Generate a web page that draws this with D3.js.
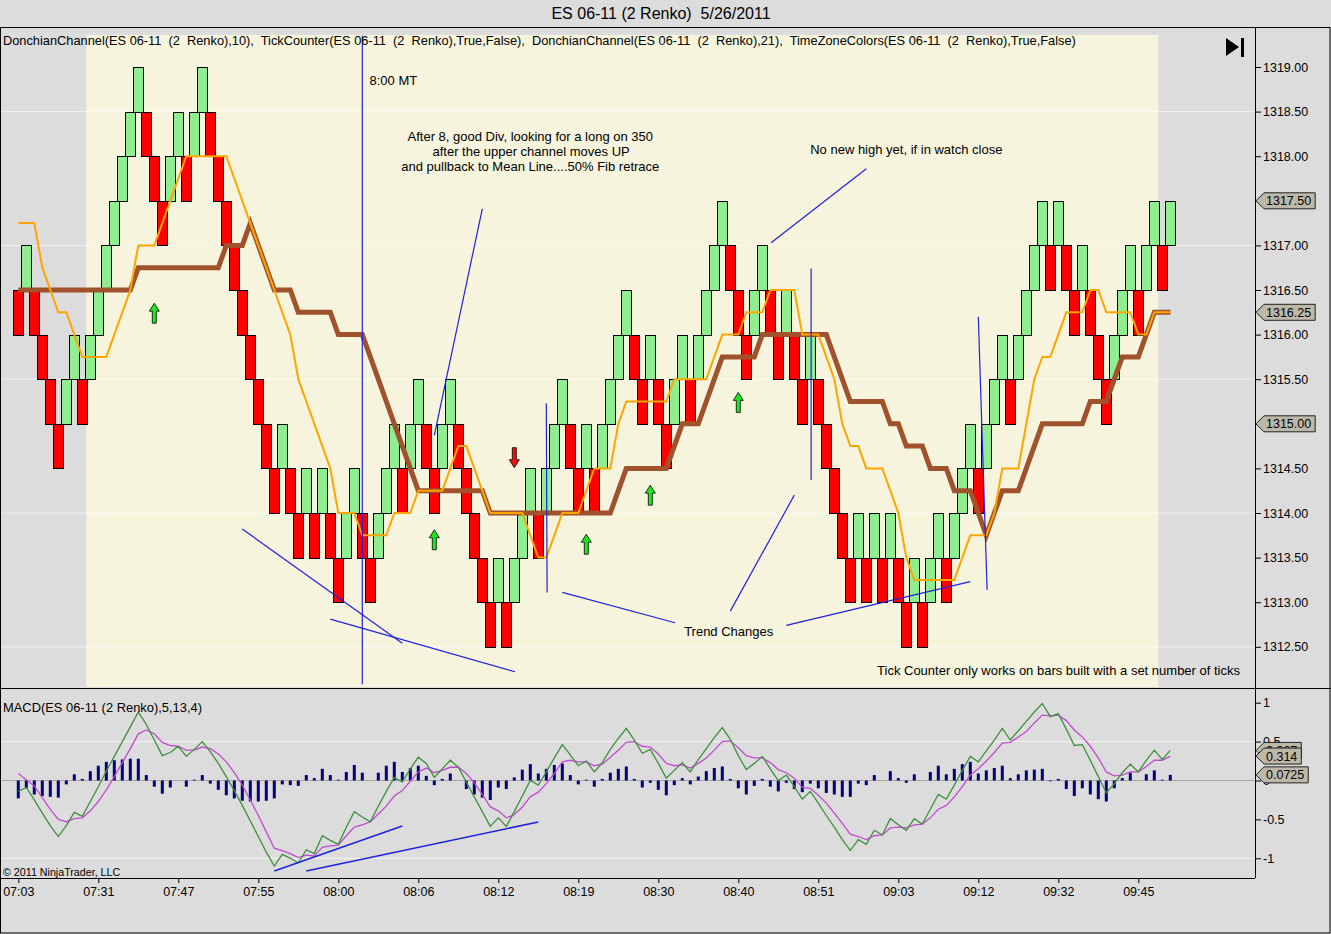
<!DOCTYPE html>
<html>
<head>
<meta charset="utf-8">
<script src="https://cdn.jsdelivr.net/npm/d3@7"></script>
<style>
  body { margin: 0; background: #dcdcdc; }
  svg { display: block; font-family: "Liberation Sans", Arial, sans-serif; }
</style>
</head>
<body>
<div class="container"></div>
<script>
// ---- data ----
const brickClose = [
  1316.0,1317.0,1316.0,1315.5,1315.0,1314.5,1315.5,1316.0,1315.0,1316.0,
  1316.5,1317.0,1317.5,1318.0,1318.5,1319.0,1318.0,1317.5,1317.0,1318.0,
  1318.5,1317.5,1318.5,1319.0,1318.0,1317.5,1317.0,1316.5,1316.0,1315.5,
  1315.0,1314.5,1314.0,1315.0,1314.0,1313.5,1314.5,1313.5,1314.5,1313.5,
  1313.0,1314.0,1314.5,1313.5,1313.0,1314.0,1314.5,1315.0,1314.0,1315.0,
  1315.5,1314.5,1314.0,1315.0,1315.5,1314.5,1314.0,1313.5,1313.0,1312.5,
  1313.5,1312.5,1313.5,1314.0,1314.5,1313.5,1314.5,1315.0,1315.5,1314.5,
  1314.0,1315.0,1314.0,1315.0,1315.5,1316.0,1316.5,1315.5,1315.0,1316.0,
  1315.0,1314.5,1315.5,1316.0,1315.0,1316.0,1316.5,1317.0,1317.5,1316.5,
  1316.0,1315.5,1316.5,1317.0,1316.0,1315.5,1316.5,1315.5,1315.0,1316.0,
  1315.0,1314.5,1314.0,1313.5,1313.0,1314.0,1313.0,1314.0,1313.0,1314.0,
  1313.0,1312.5,1313.5,1312.5,1313.5,1314.0,1313.0,1314.0,1314.5,1315.0,
  1314.0,1315.0,1315.5,1316.0,1315.0,1316.0,1316.5,1317.0,1317.5,1316.5,
  1317.5,1316.5,1316.0,1317.0,1316.0,1315.5,1315.0,1316.0,1316.5,1317.0,
  1316.0,1317.0,1317.5,1316.5,1317.5
];
const brickDir = (
  "d u d d d d u u d u u u u u u u d d d u u d u u d d d d d d " +
  "d d d u d d u d u d d u u d d u u u d u u d d u u d d d d d " +
  "u d u u u d u u u d d u d u u u u d d u d d u u d u u u u d " +
  "d d u u d d u d d u d d d d d u d u d u d d u d u u d u u u " +
  "d u u u d u u u u d u d d u d d d u u u d u u d u"
).split(" ");
const brickSize = 0.5;

const don10 = [
  1317.25,1317.25,1317.25,1316.75,1316.5,1316.25,1316.25,1316.0,1315.75,1315.75,
  1315.75,1315.75,1316.0,1316.25,1316.5,1317.0,1317.0,1317.0,1317.25,1317.5,
  1317.75,1318.0,1318.0,1318.0,1318.0,1318.0,1318.0,1317.75,1317.5,1317.25,
  1317.0,1316.75,1316.5,1316.25,1316.0,1315.5,1315.25,1315.0,1314.75,1314.5,
  1314.0,1314.0,1314.0,1313.75,1313.75,1313.75,1313.75,1314.0,1314.0,1314.0,
  1314.25,1314.25,1314.25,1314.25,1314.5,1314.75,1314.75,1314.5,1314.25,1314.0,
  1314.0,1314.0,1314.0,1314.0,1313.75,1313.5,1313.5,1313.75,1314.0,1314.0,
  1314.0,1314.25,1314.5,1314.5,1314.5,1315.0,1315.25,1315.25,1315.25,1315.25,
  1315.25,1315.25,1315.5,1315.5,1315.5,1315.5,1315.5,1315.75,1316.0,1316.0,
  1316.0,1316.25,1316.25,1316.25,1316.5,1316.5,1316.5,1316.5,1316.0,1316.0,
  1316.0,1315.75,1315.5,1315.0,1314.75,1314.75,1314.5,1314.5,1314.5,1314.25,
  1314.0,1313.5,1313.25,1313.25,1313.25,1313.25,1313.25,1313.25,1313.5,1313.75,
  1313.75,1313.75,1314.0,1314.5,1314.5,1314.5,1315.0,1315.5,1315.75,1315.75,
  1316.0,1316.25,1316.25,1316.25,1316.5,1316.5,1316.25,1316.25,1316.25,1316.25,
  1316.0,1316.0,1316.25,1316.25,1316.25
];
const don21 = [
  1316.5,1316.5,1316.5,1316.5,1316.5,1316.5,1316.5,1316.5,1316.5,1316.5,
  1316.5,1316.5,1316.5,1316.5,1316.5,1316.75,1316.75,1316.75,1316.75,1316.75,
  1316.75,1316.75,1316.75,1316.75,1316.75,1316.75,1317.0,1317.0,1317.0,1317.25,
  1317.0,1316.75,1316.5,1316.5,1316.5,1316.25,1316.25,1316.25,1316.25,1316.25,
  1316.0,1316.0,1316.0,1316.0,1315.75,1315.5,1315.25,1315.0,1314.75,1314.5,
  1314.25,1314.25,1314.25,1314.25,1314.25,1314.25,1314.25,1314.25,1314.25,1314.0,
  1314.0,1314.0,1314.0,1314.0,1314.0,1314.0,1314.0,1314.0,1314.0,1314.0,
  1314.0,1314.0,1314.0,1314.0,1314.0,1314.25,1314.5,1314.5,1314.5,1314.5,
  1314.5,1314.5,1314.75,1315.0,1315.0,1315.0,1315.25,1315.5,1315.75,1315.75,
  1315.75,1315.75,1315.75,1316.0,1316.0,1316.0,1316.0,1316.0,1316.0,1316.0,
  1316.0,1316.0,1315.75,1315.5,1315.25,1315.25,1315.25,1315.25,1315.25,1315.0,
  1315.0,1314.75,1314.75,1314.75,1314.5,1314.5,1314.5,1314.25,1314.25,1314.25,
  1314.0,1313.75,1314.0,1314.25,1314.25,1314.25,1314.5,1314.75,1315.0,1315.0,
  1315.0,1315.0,1315.0,1315.0,1315.25,1315.25,1315.25,1315.5,1315.75,1315.75,
  1315.75,1316.0,1316.25,1316.25,1316.25
];

const macdLine = [
  -0.14,-0.09,-0.25,-0.42,-0.58,-0.72,-0.58,-0.41,-0.46,-0.27,
  -0.08,0.12,0.31,0.50,0.69,0.88,0.72,0.52,0.32,0.36,
  0.44,0.31,0.40,0.50,0.37,0.22,0.05,-0.13,-0.32,-0.52,
  -0.72,-0.92,-1.10,-0.95,-1.00,-1.06,-0.89,-0.94,-0.71,-0.77,
  -0.82,-0.60,-0.40,-0.47,-0.53,-0.33,-0.14,0.04,-0.02,0.15,
  0.30,0.22,0.04,0.15,0.26,0.17,-0.02,-0.21,-0.40,-0.59,
  -0.48,-0.59,-0.40,-0.20,0.00,-0.06,0.11,0.29,0.46,0.33,
  0.19,0.25,0.11,0.23,0.40,0.54,0.67,0.52,0.35,0.40,
  0.22,0.03,0.13,0.23,0.11,0.27,0.41,0.55,0.68,0.53,
  0.32,0.14,0.22,0.31,0.15,0.00,0.07,-0.08,-0.24,-0.14,
  -0.29,-0.45,-0.60,-0.76,-0.90,-0.76,-0.82,-0.64,-0.70,-0.49,
  -0.57,-0.64,-0.49,-0.56,-0.37,-0.18,-0.24,-0.06,0.13,0.31,
  0.24,0.38,0.52,0.67,0.52,0.64,0.76,0.88,0.99,0.82,
  0.86,0.66,0.45,0.46,0.26,0.05,-0.16,-0.04,0.10,0.21,
  0.11,0.26,0.39,0.27,0.3865
];
const macdAvg = [
  0.09,0.01,-0.07,-0.22,-0.37,-0.50,-0.53,-0.49,-0.48,-0.39,
  -0.27,-0.12,0.05,0.23,0.41,0.60,0.65,0.60,0.49,0.45,
  0.44,0.39,0.39,0.43,0.41,0.34,0.24,0.10,-0.06,-0.25,
  -0.45,-0.66,-0.87,-0.90,-0.94,-0.99,-0.96,-0.97,-0.86,-0.84,
  -0.83,-0.71,-0.60,-0.57,-0.53,-0.43,-0.33,-0.20,-0.13,-0.01,
  0.11,0.16,0.10,0.13,0.17,0.17,0.09,-0.03,-0.18,-0.34,
  -0.39,-0.48,-0.44,-0.34,-0.21,-0.15,-0.04,0.09,0.24,0.26,
  0.24,0.24,0.19,0.21,0.30,0.39,0.49,0.50,0.44,0.43,
  0.34,0.22,0.19,0.20,0.16,0.22,0.29,0.39,0.50,0.51,
  0.42,0.32,0.29,0.29,0.23,0.14,0.10,0.03,-0.09,-0.10,
  -0.19,-0.29,-0.42,-0.55,-0.69,-0.72,-0.76,-0.71,-0.70,-0.61,
  -0.60,-0.61,-0.57,-0.56,-0.48,-0.37,-0.32,-0.21,-0.08,0.07,
  0.15,0.25,0.36,0.48,0.49,0.56,0.63,0.74,0.84,0.83,
  0.84,0.77,0.65,0.56,0.44,0.29,0.11,0.06,0.07,0.11,
  0.11,0.18,0.26,0.26,0.314
];
const macdDiff = [
  -0.23,-0.10,-0.18,-0.20,-0.21,-0.22,-0.05,0.08,0.02,0.12,
  0.19,0.24,0.26,0.27,0.28,0.28,0.07,-0.08,-0.17,-0.09,
  0.00,-0.08,0.01,0.07,-0.04,-0.12,-0.19,-0.23,-0.26,-0.27,
  -0.27,-0.26,-0.23,-0.05,-0.06,-0.07,0.07,0.03,0.15,0.07,
  0.01,0.11,0.20,0.10,0.00,0.10,0.19,0.24,0.11,0.16,
  0.19,0.06,-0.06,0.02,0.09,0.00,-0.11,-0.18,-0.22,-0.25,
  -0.09,-0.11,0.04,0.14,0.21,0.09,0.15,0.20,0.22,0.07,
  -0.05,0.01,-0.08,0.02,0.10,0.15,0.18,0.02,-0.09,-0.03,
  -0.12,-0.19,-0.06,0.03,-0.05,0.05,0.12,0.16,0.18,0.02,
  -0.10,-0.18,-0.07,0.02,-0.08,-0.14,-0.03,-0.11,-0.15,-0.04,
  -0.10,-0.16,-0.18,-0.21,-0.21,-0.04,-0.06,0.07,0.00,0.12,
  0.03,-0.03,0.08,0.00,0.11,0.19,0.08,0.15,0.21,0.24,
  0.09,0.13,0.16,0.19,0.03,0.08,0.13,0.14,0.15,-0.01,
  0.02,-0.11,-0.20,-0.10,-0.18,-0.24,-0.27,-0.10,0.03,0.10,
  0.00,0.08,0.13,0.01,0.0725
];

const timeTickBars = [0,10,20,30,40,50,60,70,80,90,100,110,120,130,140];
const timeLabels = ["07:03","07:31","07:47","07:55","08:00","08:06","08:12","08:19",
                    "08:30","08:40","08:51","09:03","09:12","09:32","09:45"];
const priceTicks = [1312.5,1313,1313.5,1314,1314.5,1315,1315.5,1316,1316.5,1317,1317.5,1318,1318.5,1319];
const priceGrid = [1312.5,1314,1315.5,1317,1318.5];
const macdTicks = [-1,-0.5,0,0.5,1];
const macdTickText = ["-1","-0.5","0","0.5","1"];
const macdGrid = [-1,0.5];
const sessionBars = [9,142];
const priceMarks = [1317.5,1316.25,1315.0];
const macdMarks = [["0.387",0.3865],["0.314",0.314],["0.0725",0.0725]];

// hand drawn annotations, [bar, price] pairs
const noteLines = [
  [[43,1319.35],[43,1312.08]],
  [[58,1317.41],[52,1314.87]],
  [[106,1317.86],[94.1,1317.03]],
  [[99.1,1316.74],[99.1,1314.37]],
  [[66,1315.23],[66.1,1313.11]],
  [[68,1313.11],[82.1,1312.77]],
  [[89,1312.90],[97,1314.20]],
  [[96,1312.74],[119,1313.23]],
  [[120,1316.20],[121.1,1313.14]],
  [[28,1313.82],[48,1312.54]],
  [[39,1312.81],[62.1,1312.22]]
];
const macdNoteLines = [
  [[32,-1.163],[48,-0.585]],
  [[36,-1.163],[65,-0.533]]
];
const upArrows = [[17,1316.24],[52,1313.70],[71,1313.65],[79,1314.20],[90,1315.24]];
const downArrows = [[62,1314.62]];
const noteTexts = [
  {bar: 43.9, price: 1318.80, anchor: "start", text: "8:00 MT"},
  {bar: 64, price: 1318.17, anchor: "middle", text: "After 8, good Div, looking for a long on 350"},
  {bar: 64.1, price: 1318.00, anchor: "middle", text: "after the upper channel moves UP"},
  {bar: 64, price: 1317.83, anchor: "middle", text: "and pullback to Mean Line....50% Fib retrace"},
  {bar: 111, price: 1318.02, anchor: "middle", text: "No new high yet, if in watch close"},
  {bar: 88.8, price: 1312.62, anchor: "middle", text: "Trend Changes"}
];

// ---- layout ----
const W = 1331, H = 934;
const axisX = 1255;
const panelTop = 27, split = 688, bottom = 878;

const svg = d3.select(".container").append("svg")
  .attr("width", W).attr("height", H);

svg.append("rect").attr("width", W).attr("height", H).attr("fill", "#dcdcdc");

const x = d3.scaleLinear().domain([0, 144]).range([18.3, 1170.3]);
const y = d3.scaleLinear().domain([1312.5, 1319]).range([646.8, 67]);
const ym = d3.scaleLinear().domain([-1, 1]).range([858.3, 702.7]);
const step = x(1) - x(0);

// title
svg.append("text").attr("x", 661).attr("y", 19).attr("text-anchor", "middle")
  .style("font-size", "16px").style("white-space", "pre")
  .text("ES 06-11 (2 Renko)  5/26/2011");

// session colour
svg.append("rect")
  .attr("x", x(sessionBars[0]) - step / 2).attr("y", 35)
  .attr("width", x(sessionBars[1]) - x(sessionBars[0]) + step)
  .attr("height", 652).attr("fill", "#f6f4dd");

// grid
svg.selectAll(".pgrid").data(priceGrid).join("line")
  .attr("x1", 0).attr("x2", axisX).attr("y1", d => y(d)).attr("y2", d => y(d))
  .attr("stroke", "#ffffff").attr("stroke-opacity", 0.6);
svg.selectAll(".mgrid").data(macdGrid).join("line")
  .attr("x1", 0).attr("x2", axisX).attr("y1", d => ym(d)).attr("y2", d => ym(d))
  .attr("stroke", "#ffffff").attr("stroke-opacity", 0.7);
svg.append("line").attr("x1", 0).attr("x2", axisX)
  .attr("y1", ym(0)).attr("y2", ym(0)).attr("stroke", "#a8a8a8");

// bricks
const bricks = brickClose.map((c, i) => {
  const open = brickDir[i] === "u" ? c - brickSize : c + brickSize;
  return {i, hi: Math.max(open, c), lo: Math.min(open, c), up: brickDir[i] === "u"};
});
svg.append("g").selectAll("rect").data(bricks).join("rect")
  .attr("x", d => Math.round(x(d.i) - 5) + 0.5)
  .attr("y", d => Math.round(y(d.hi)) + 0.5)
  .attr("width", 10)
  .attr("height", d => Math.round(y(d.lo)) - Math.round(y(d.hi)))
  .attr("fill", d => d.up ? "#90ee90" : "#ff0000")
  .attr("stroke", "#000").attr("stroke-width", 1);

// donchian mean lines
const priceLine = d3.line().x((d, i) => x(i)).y(d => y(d));
svg.append("path").datum(don21).attr("d", priceLine)
  .attr("fill", "none").attr("stroke", "#a0522d").attr("stroke-width", 5)
  .attr("stroke-linejoin", "miter");
svg.append("path").datum(don10).attr("d", priceLine)
  .attr("fill", "none").attr("stroke", "#ffa500").attr("stroke-width", 2);

// macd
svg.append("g").selectAll("line").data(macdDiff).join("line")
  .attr("x1", (d, i) => x(i)).attr("x2", (d, i) => x(i))
  .attr("y1", ym(0)).attr("y2", d => ym(d))
  .attr("stroke", "#000080").attr("stroke-width", 3);
const macdPath = d3.line().x((d, i) => x(i)).y(d => ym(d));
svg.append("path").datum(macdAvg).attr("d", macdPath)
  .attr("fill", "none").attr("stroke", "#c04cd0").attr("stroke-width", 1.3);
svg.append("path").datum(macdLine).attr("d", macdPath)
  .attr("fill", "none").attr("stroke", "#3f8f3f").attr("stroke-width", 1.3);

// annotations
const blue = "#2222dd";
svg.append("g").selectAll("line").data(noteLines).join("line")
  .attr("x1", d => x(d[0][0])).attr("y1", d => y(d[0][1]))
  .attr("x2", d => x(d[1][0])).attr("y2", d => y(d[1][1]))
  .attr("stroke", blue).attr("stroke-width", 1.2);
svg.append("g").selectAll("line").data(macdNoteLines).join("line")
  .attr("x1", d => x(d[0][0])).attr("y1", d => ym(d[0][1]))
  .attr("x2", d => x(d[1][0])).attr("y2", d => ym(d[1][1]))
  .attr("stroke", blue).attr("stroke-width", 1.5);

function arrowPath(cx, cy, dir) {
  const s = dir; // 1 = up, -1 = down
  const pts = [[0,-10],[5,-2],[2,-2],[2,10],[-2,10],[-2,-2],[-5,-2]];
  return "M" + pts.map(p => [cx + p[0], cy + p[1] * s].join(",")).join("L") + "Z";
}
svg.append("g").selectAll("path").data(upArrows).join("path")
  .attr("d", d => arrowPath(x(d[0]), y(d[1]), 1))
  .attr("fill", "#1ee61e").attr("stroke", "#000").attr("stroke-width", 0.8);
svg.append("g").selectAll("path").data(downArrows).join("path")
  .attr("d", d => arrowPath(x(d[0]), y(d[1]), -1))
  .attr("fill", "#ee1111").attr("stroke", "#000").attr("stroke-width", 0.8);

svg.append("g").selectAll("text").data(noteTexts).join("text")
  .attr("x", d => x(d.bar)).attr("y", d => y(d.price))
  .attr("text-anchor", d => d.anchor)
  .style("font-size", "13px").text(d => d.text);

svg.append("text").attr("x", 1240).attr("y", 675).attr("text-anchor", "end")
  .style("font-size", "13px").text("Tick Counter only works on bars built with a set number of ticks");

// labels
svg.append("text").attr("x", 3).attr("y", 45).style("font-size", "12.8px").style("white-space", "pre")
  .text("DonchianChannel(ES 06-11  (2  Renko),10),  TickCounter(ES 06-11  (2  Renko),True,False),  DonchianChannel(ES 06-11  (2  Renko),21),  TimeZoneColors(ES 06-11  (2  Renko),True,False)");
svg.append("text").attr("x", 3).attr("y", 712).style("font-size", "12.9px")
  .text("MACD(ES 06-11 (2 Renko),5,13,4)");
svg.append("text").attr("x", 3).attr("y", 876).style("font-size", "10.7px")
  .text("\u00a9 2011 NinjaTrader, LLC");

// go-to-end icon
svg.append("path").attr("d", "M1226,38 L1239,47 L1226,56 Z").attr("fill", "#000");
svg.append("rect").attr("x", 1241).attr("y", 38).attr("width", 3).attr("height", 19).attr("fill", "#000");

// axes (labels that sit under a value marker are left to the marker)
const pAxis = svg.append("g").attr("transform", `translate(${axisX},0)`)
  .call(d3.axisRight(y).tickValues(priceTicks)
    .tickFormat(d => priceMarks.includes(d) ? "" : d3.format(".2f")(d))
    .tickSize(6).tickPadding(2));
const mAxis = svg.append("g").attr("transform", `translate(${axisX},0)`)
  .call(d3.axisRight(ym).tickValues(macdTicks).tickFormat((d, i) => macdTickText[i]).tickSize(6).tickPadding(2));
const tAxis = svg.append("g").attr("transform", `translate(0,${bottom})`)
  .call(d3.axisBottom(x).tickValues(timeTickBars).tickFormat((d, i) => timeLabels[i]).tickSize(5).tickPadding(4));
[pAxis, mAxis, tAxis].forEach(g => {
  g.select(".domain").remove();
  g.selectAll("text").style("font-size", "12.5px").style("font-family", '"Liberation Sans", Arial, sans-serif').attr("fill", "#000");
  g.selectAll("line").attr("stroke", "#000");
});

// value markers on the axes
function marker(label, yy) {
  const g = svg.append("g");
  const t = g.append("text").attr("x", axisX + 11).attr("y", yy + 4.5)
    .style("font-size", "12.5px").text(label);
  const w = t.node().getComputedTextLength() + 15;
  g.insert("path", "text")
    .attr("d", `M${axisX + 1},${yy} L${axisX + 9},${yy - 8} L${axisX + w},${yy - 8} L${axisX + w},${yy + 8} L${axisX + 9},${yy + 8} Z`)
    .attr("fill", "#bdb9aa").attr("stroke", "#222").attr("stroke-width", 1);
}
priceMarks.forEach(p => marker(d3.format(".2f")(p), y(p)));
macdMarks.forEach(m => marker(m[0], ym(m[1])));

// frames
const frame = svg.append("g").attr("fill", "none").attr("stroke", "#000");
frame.append("rect").attr("x", 0.5).attr("y", panelTop + 0.5).attr("width", W - 1.5).attr("height", H - panelTop - 1.5);
frame.append("line").attr("x1", 0).attr("x2", W).attr("y1", split + 0.5).attr("y2", split + 0.5);
frame.append("line").attr("x1", 0).attr("x2", axisX).attr("y1", bottom + 0.5).attr("y2", bottom + 0.5);
frame.append("line").attr("x1", axisX + 0.5).attr("x2", axisX + 0.5).attr("y1", panelTop).attr("y2", bottom);
</script>
</body>
</html>
